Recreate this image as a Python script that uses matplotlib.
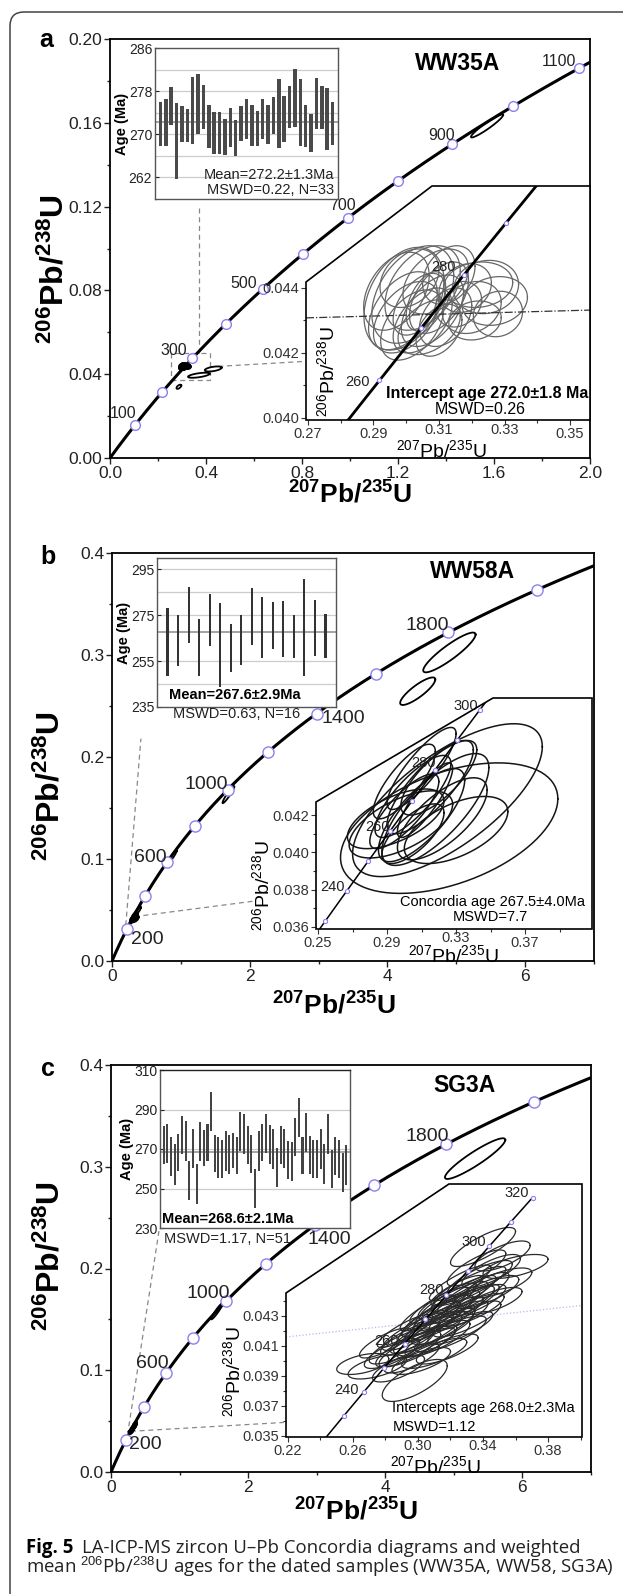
import numpy as np
import matplotlib.pyplot as plt
from matplotlib.patches import Polygon, Rectangle, FancyBboxPatch
from matplotlib.ticker import MultipleLocator, FormatStrFormatter, FuncFormatter
from matplotlib.transforms import IdentityTransform

plt.rcParams['font.family'] = ['Liberation Sans', 'DejaVu Sans']
plt.rcParams['mathtext.fontset'] = 'custom'
plt.rcParams['mathtext.rm'] = 'Liberation Sans'
plt.rcParams['mathtext.bf'] = 'Liberation Sans:bold'
plt.rcParams['mathtext.it'] = 'Liberation Sans:italic'

W, H = 623, 1594

# U decay constants (1/yr)
L238 = 1.55125e-10
L235 = 9.8485e-10

# ---------------- panel a : WW35A
a_ages = [100, 200, 300, 400, 500, 600, 700, 800, 900, 1000, 1100]
a_lab_ages = [100, 300, 500, 700, 900, 1100]
a_bar_top = [276.0, 276.6, 278.7, 275.8, 275.2, 274.6, 280.6, 281.2, 279.2, 275.5, 274.2,
             274.2, 272.9, 274.9, 272.6, 275.2, 276.5, 275.5, 274.3, 276.5, 275.5, 277.0,
             280.2, 277.1, 278.9, 282.1, 280.3, 275.5, 273.7, 280.5, 279.0, 278.6, 275.9]
a_bar_bot = [267.9, 267.9, 271.8, 261.8, 268.5, 268.5, 268.2, 270.0, 270.9, 267.5, 266.3,
             266.3, 266.2, 267.7, 266.0, 268.8, 269.1, 267.8, 267.8, 269.1, 268.2, 270.0,
             267.4, 268.5, 271.2, 271.4, 267.8, 267.7, 266.8, 270.9, 270.9, 267.1, 268.0]
a_mean = 272.2
# inset ellipses: centre, half-widths, correlation
a_ex = [0.2993, 0.3020, 0.3050, 0.2990, 0.3018, 0.3050, 0.3000, 0.3080, 0.3040, 0.3100, 0.3090,
        0.2970, 0.3070, 0.3120, 0.3010, 0.3130, 0.3100, 0.3060,
        0.3244, 0.3270, 0.3220, 0.3200, 0.3180, 0.3160, 0.3280, 0.3210]
a_ey = [0.04367, 0.04380, 0.04400, 0.04330, 0.04286, 0.04300, 0.04310, 0.04330, 0.04350, 0.04370,
        0.04420, 0.04390, 0.04280, 0.04310, 0.04430, 0.04440, 0.04270, 0.04360,
        0.04403, 0.04360, 0.04410, 0.04340, 0.04400, 0.04350, 0.04320, 0.04300]
a_sx = [0.0122, 0.0125, 0.0115, 0.0105, 0.0096, 0.0090, 0.0100, 0.0095, 0.0080, 0.0090, 0.0100,
        0.0100, 0.0095, 0.0080, 0.0090, 0.0080, 0.0070, 0.0060,
        0.0099, 0.0100, 0.0105, 0.0090, 0.0080, 0.0070, 0.0075, 0.0080]
a_sy = [0.00158, 0.00150, 0.00130, 0.00120, 0.00108, 0.00100, 0.00110, 0.00110, 0.00095, 0.00110,
        0.00100, 0.00120, 0.00085, 0.00090, 0.00090, 0.00090, 0.00080, 0.00090,
        0.00082, 0.00075, 0.00070, 0.00080, 0.00075, 0.00070, 0.00070, 0.00060]
a_rho = [0.35, 0.40, 0.40, 0.45, 0.45, 0.50, 0.45, 0.50, 0.50, 0.50, 0.40, 0.40, 0.40, 0.40, 0.30,
         0.30, 0.40, 0.50, 0.10, 0.15, 0.10, 0.20, 0.20, 0.20, 0.10, 0.15]
# discordant grains in the main diagram
a_big_ex = [1.571, 0.370, 0.430, 0.287]
a_big_ey = [0.1585, 0.0395, 0.0425, 0.0340]
a_big_sx = [0.067, 0.045, 0.035, 0.010]
a_big_sy = [0.0055, 0.0012, 0.0012, 0.0010]
a_big_rho = [0.95, 0.6, 0.5, 0.6]
a_disc = ([0.2694, 0.3561], [0.04308, 0.04332])

# ---------------- panel b : WW58A
b_ages = [200, 400, 600, 800, 1000, 1200, 1400, 1600, 1800, 2000]
b_lab_ages = [200, 600, 1000, 1400, 1800]
b_bar_top = [278.3, 275.0, 287.3, 273.3, 284.1, 280.5, 271.4, 275.3, 287.0, 283.1, 281.0,
             281.4, 275.0, 291.0, 281.5, 275.4]
b_bar_bot = [248.6, 253.0, 262.8, 248.6, 261.4, 243.6, 250.1, 253.3, 262.0, 256.2, 260.5,
             257.0, 256.2, 248.6, 257.3, 256.2]
b_mean = 267.6
b_ex = [0.326, 0.325, 0.318, 0.305, 0.310, 0.300, 0.315, 0.298, 0.320, 0.310, 0.330, 0.305,
        0.295, 0.312, 0.322, 0.300]
b_ey = [0.0413, 0.0428, 0.0423, 0.0430, 0.0420, 0.0422, 0.0435, 0.0415, 0.0440, 0.0445, 0.0412,
        0.0410, 0.0418, 0.0428, 0.0418, 0.0438]
b_sx = [0.063, 0.055, 0.031, 0.022, 0.025, 0.020, 0.025, 0.030, 0.022, 0.020, 0.030, 0.018,
        0.028, 0.016, 0.026, 0.018]
b_sy = [0.0035, 0.0041, 0.0030, 0.0022, 0.0025, 0.0020, 0.0025, 0.0018, 0.0020, 0.0022, 0.0018,
        0.0016, 0.0016, 0.0020, 0.0022, 0.0020]
b_rho = [0.45, 0.70, 0.75, 0.80, 0.75, 0.80, 0.80, 0.60, 0.75, 0.85, 0.55, 0.70, 0.60, 0.85,
         0.70, 0.80]
b_big_ex = [4.90, 4.44, 1.69, 0.87, 0.36, 0.30]
b_big_ey = [0.3025, 0.2645, 0.163, 0.1017, 0.048, 0.040]
b_big_sx = [0.38, 0.255, 0.085, 0.07, 0.06, 0.05]
b_big_sy = [0.0195, 0.0135, 0.0083, 0.0066, 0.005, 0.004]
b_big_rho = [0.9, 0.85, 0.95, 0.95, 0.9, 0.9]

# ---------------- panel c : SG3A
c_ages = b_ages
c_lab_ages = [200, 600, 1000, 1400, 1800]
c_bar_top = [281.6, 282.7, 276.0, 272.3, 277.7, 286.6, 284.1, 263.8, 279.9, 262.2, 283.8,
             279.4, 282.7, 298.8, 277.3, 276.0, 274.8, 279.0, 277.0, 278.2, 276.0, 288.8,
             287.8, 281.6, 277.3, 260.1, 279.0, 282.7, 287.5, 282.4, 279.9, 270.6, 281.6,
             279.9, 274.3, 273.6, 285.8, 295.9, 276.0, 288.3, 276.5, 274.8, 274.8, 279.9,
             272.3, 287.8, 269.7, 276.0, 274.8, 268.1, 272.0]
c_bar_bot = [262.2, 263.0, 256.2, 252.0, 258.8, 267.6, 263.8, 244.4, 260.5, 242.2, 263.8,
             261.3, 263.8, 279.0, 258.4, 255.4, 255.4, 258.8, 257.1, 260.5, 257.1, 268.9,
             267.6, 262.2, 257.9, 239.9, 258.8, 263.8, 268.1, 262.2, 260.1, 250.7, 262.2,
             260.5, 254.6, 253.7, 266.4, 276.0, 257.1, 268.6, 257.1, 255.1, 255.1, 260.1,
             252.4, 267.6, 250.3, 256.8, 255.4, 248.3, 252.0]
c_mean = 268.6
c_ex = [0.266, 0.275, 0.298, 0.284, 0.290, 0.295, 0.300, 0.305, 0.308, 0.312, 0.315, 0.318,
        0.322, 0.325, 0.328, 0.332, 0.335, 0.338, 0.340, 0.345, 0.360, 0.350, 0.310, 0.302,
        0.320, 0.330, 0.288, 0.296, 0.313, 0.326, 0.342, 0.318, 0.306, 0.336, 0.280, 0.352,
        0.324, 0.292, 0.346, 0.333,
        0.300, 0.310, 0.316, 0.322, 0.305, 0.328, 0.312, 0.294, 0.334, 0.318, 0.308, 0.326]
c_ey = [0.0398, 0.0396, 0.0387, 0.0405, 0.0410, 0.0415, 0.0420, 0.0412, 0.0425, 0.0430,
        0.0422, 0.0435, 0.0440, 0.0430, 0.0445, 0.0450, 0.0440, 0.0455, 0.0476, 0.0460,
        0.0463, 0.0452, 0.0405, 0.0400, 0.0418, 0.0428, 0.0395, 0.0402, 0.0437, 0.0452,
        0.0446, 0.0408, 0.0432, 0.0462, 0.0412, 0.0470, 0.0447, 0.0420, 0.0440, 0.0434,
        0.0410, 0.0420, 0.0428, 0.0435, 0.0418, 0.0438, 0.0415, 0.0408, 0.0445, 0.0440,
        0.0428, 0.0422]
c_sx = [0.016, 0.018, 0.020, 0.017, 0.020, 0.018, 0.022, 0.018, 0.020, 0.022, 0.019, 0.020,
        0.021, 0.018, 0.020, 0.022, 0.019, 0.020, 0.020, 0.018, 0.020, 0.020, 0.020, 0.018,
        0.022, 0.021, 0.016, 0.017, 0.018, 0.019, 0.020, 0.019, 0.017, 0.018, 0.016, 0.017,
        0.016, 0.017, 0.018, 0.020,
        0.024, 0.025, 0.024, 0.025, 0.022, 0.022, 0.020, 0.020, 0.022, 0.018, 0.018, 0.020]
c_sy = [0.0007, 0.0008, 0.0014, 0.0010, 0.0012, 0.0011, 0.0013, 0.0010, 0.0012, 0.0014,
        0.0011, 0.0012, 0.0013, 0.0010, 0.0012, 0.0013, 0.0011, 0.0012, 0.0013, 0.0011,
        0.0008, 0.0010, 0.0010, 0.0009, 0.0012, 0.0012, 0.0009, 0.0010, 0.0012, 0.0012,
        0.0011, 0.0010, 0.0012, 0.0012, 0.0010, 0.0010, 0.0010, 0.0011, 0.0009, 0.0011,
        0.0014, 0.0015, 0.0015, 0.0015, 0.0013, 0.0013, 0.0012, 0.0012, 0.0014, 0.0012,
        0.0012, 0.0011]
c_rho = [0.5, 0.6, 0.7, 0.75, 0.8, 0.8, 0.85, 0.8, 0.85, 0.85, 0.8, 0.85, 0.85, 0.8, 0.85,
         0.85, 0.8, 0.8, 0.8, 0.75, 0.6, 0.7, 0.75, 0.7, 0.8, 0.8, 0.7, 0.75, 0.85, 0.85,
         0.75, 0.75, 0.85, 0.8, 0.8, 0.7, 0.85, 0.85, 0.7, 0.8,
         0.85, 0.88, 0.88, 0.88, 0.85, 0.85, 0.8, 0.8, 0.85, 0.85, 0.85, 0.8]
c_big_ex = [5.31, 1.545, 0.33]
c_big_ey = [0.308, 0.158, 0.045]
c_big_sx = [0.44, 0.085, 0.05]
c_big_sy = [0.020, 0.008, 0.004]
c_big_rho = [0.92, 0.95, 0.9]
c_disc = ([0.2188, 0.4009], [0.0416, 0.0437])

fig = plt.figure(figsize=(W / 100, H / 100), dpi=100)


def px_axes(x0, y0, x1, y1):
    return fig.add_axes([x0 / W, 1 - y1 / H, (x1 - x0) / W, (y1 - y0) / H])


def ftext(x, y, s, **kw):
    return fig.text(x / W, 1 - y / H, s, **kw)


def concordia(ages):
    t = np.asarray(ages, dtype=float) * 1e6
    return np.expm1(L235 * t), np.expm1(L238 * t)


def ellipse_xy(cx, cy, sx, sy, r):
    t = np.linspace(0, 2 * np.pi, 90)
    return cx + sx * np.cos(t), cy + sy * (r * np.cos(t) + np.sqrt(1 - r * r) * np.sin(t))


XLAB = r'$\mathbf{{}^{207}Pb/{}^{235}U}$'
YLAB = r'$\mathbf{{}^{206}Pb/{}^{238}U}$'
XLAB_S = r'${}^{207}$Pb/${}^{235}$U'
YLAB_S = r'${}^{206}$Pb/${}^{238}$U'
MK = '#8a80f0'


def main_panel(box, xlim, ylim, xs, xm, ys, ym, xf, yf, xlab_pos, ylab_pos):
    ax = px_axes(*box)
    ax.set_xlim(xlim)
    ax.set_ylim(ylim)
    ax.xaxis.set_major_locator(MultipleLocator(xs))
    ax.xaxis.set_minor_locator(MultipleLocator(xm))
    ax.yaxis.set_major_locator(MultipleLocator(ys))
    ax.yaxis.set_minor_locator(MultipleLocator(ym))
    ax.xaxis.set_major_formatter(FormatStrFormatter(xf))
    ax.yaxis.set_major_formatter(FormatStrFormatter(yf))
    ax.tick_params(which='both', direction='out', width=1, labelsize=12.5, pad=1.5,
                   colors='#222')
    ax.tick_params(which='major', length=4)
    ax.tick_params(which='minor', length=2.5)
    for s in ax.spines.values():
        s.set_linewidth(1.3)
    ax.text(*xlab_pos, XLAB, transform=ax.transAxes, fontsize=19, ha='center', va='center')
    ax.text(*ylab_pos, YLAB, transform=ax.transAxes, fontsize=23, ha='center', va='center',
            rotation=90)
    x, y = concordia(np.linspace(0, 2400, 600))
    ax.plot(x, y, color='k', lw=2.2, zorder=3)
    return ax


def age_marks(ax, ages, lab_ages, offs, ms, fs):
    x, y = concordia(ages)
    ax.plot(x, y, 'o', ms=ms, mfc='white', mec=MK, mew=1, zorder=5)
    for a, (dx, dy) in zip(lab_ages, offs):
        px, py = concordia([a])
        ax.annotate(str(a), (px[0], py[0]), xytext=(dx, dy), textcoords='offset pixels',
                    ha='center', va='center', fontsize=fs, color='#222', zorder=6)


def bar_inset(box, tops, bots, ylim, yticks, grid, mean, width, color):
    ax = px_axes(*box)
    tops = np.array(tops)
    bots = np.array(bots)
    xs = np.arange(1, len(tops) + 1)
    ax.bar(xs, tops - bots, bottom=bots, width=width, color=color, zorder=3)
    ax.set_xlim(0, len(tops) + 1)
    ax.set_ylim(ylim)
    for g in grid:
        ax.axhline(g, color='#cccccc', lw=0.9, zorder=1)
    ax.axhline(mean, color='#8a8a8a', lw=1.1, zorder=2)
    ax.set_xticks([])
    ax.set_yticks(yticks)
    ax.tick_params(axis='y', direction='in', length=3, labelsize=10, pad=2, colors='#222')
    for s in ax.spines.values():
        s.set_color('#555')
        s.set_linewidth(1)
    ax.set_ylabel('Age (Ma)', fontweight='bold', fontsize=10.5, labelpad=0)
    return ax


def conc_inset(box, corner_y, diag_x, xlim, ylim):
    x0, y0, x1, y1 = box
    ax = px_axes(x0, y0, x1, y1)
    ax.set_xlim(xlim)
    ax.set_ylim(ylim)
    ax.patch.set_visible(False)
    for s in ax.spines.values():
        s.set_visible(False)
    fy = (y1 - corner_y) / (y1 - y0)
    fx = (diag_x - x0) / (x1 - x0)
    pts = [(0, 0), (1, 0), (1, 1), (fx, 1), (0, fy)]
    bg = Polygon(pts, closed=True, transform=ax.transAxes, fc='white', ec='none', zorder=0)
    ax.add_patch(bg)
    ax.add_patch(Polygon(pts, closed=True, transform=ax.transAxes, fill=False, ec='k', lw=1.2,
                         zorder=8, clip_on=False))
    ax.tick_params(which='both', direction='out', labelsize=10.5, pad=1.5, colors='#333',
                   width=0.8)
    ax.tick_params(which='major', length=3.5)
    ax.tick_params(which='minor', length=2)
    ax.yaxis.set_major_formatter(FormatStrFormatter('%.3f'))
    return ax, bg


def inset_xticks(ax, ticks, minor, raised, h):
    # a few labels sit a little higher, as in the original, to clear the axis title
    ax.set_xticks(ticks)
    ax.set_xticks(minor, minor=True)
    ax.xaxis.set_major_formatter(FuncFormatter(
        lambda v, p: '' if any(abs(v - r) < 1e-9 for r in raised) else '%.2f' % v))
    for r in raised:
        ax.text(r, -2.5 / h, '%.2f' % r, transform=ax.get_xaxis_transform(), ha='center',
                va='top', fontsize=10.5, color='#333')


def draw_ellipses(ax, ex, ey, sx, sy, rho, color, lw, clip=None):
    for cx, cy, a, b, r in zip(ex, ey, sx, sy, rho):
        x, y = ellipse_xy(cx, cy, a, b, r)
        ln, = ax.plot(x, y, color=color, lw=lw, zorder=4)
        if clip is not None:
            ln.set_clip_path(clip)


def inset_curve(ax, clip, t0, t1, lw, ages, lab_ages, offs):
    x, y = concordia(np.linspace(t0, t1, 300))
    ln, = ax.plot(x, y, color='k', lw=lw, zorder=5)
    ln.set_clip_path(clip)
    mx, my = concordia(ages)
    m, = ax.plot(mx, my, 'o', ms=3, mfc='white', mec=MK, mew=0.8, zorder=6)
    m.set_clip_path(clip)
    for a, (dx, dy) in zip(lab_ages, offs):
        px, py = concordia([a])
        ax.annotate(str(a), (px[0], py[0]), xytext=(dx, dy), textcoords='offset pixels',
                    ha='center', va='center', fontsize=10.5, color='#222', zorder=7)


dash = dict(color='#888888', lw=0.9, ls=(0, (4, 3)), zorder=2)

# ======================= panel a
ax = main_panel((110, 39, 590, 458), (0, 2.0), (0, 0.20), 0.4, 0.2, 0.04, 0.02, '%.1f', '%.2f',
                (0.50, -0.088), (-0.115, 0.45))
age_marks(ax, a_ages, a_lab_ages, [(-12, 12), (-19, 8), (-19, 6), (-6, 12), (-11, 9), (-20, 7)],
          7, 11.5)
draw_ellipses(ax, a_ex, a_ey, a_sx, a_sy, a_rho, 'k', 1.2)
draw_ellipses(ax, a_big_ex, a_big_ey, a_big_sx, a_big_sy, a_big_rho, 'k', 1.3)
ax.add_patch(Rectangle((0.254, 0.0374), 0.162, 0.0127, fill=False, ec='#888888', lw=0.9,
                       ls=(0, (4, 3)), zorder=2))
ax.plot([0.37, 0.37], [0.0501, 0.120], **dash)
ax.plot([0.415, 1.633], [0.0435, 0.0515], **dash)
ftext(458, 63, 'WW35A', fontsize=16.5, fontweight='bold', ha='center', va='center')
ftext(46, 40, 'a', fontsize=18, fontweight='bold', ha='center', va='center')

bx = bar_inset((155, 48, 338, 199), a_bar_top, a_bar_bot, (258, 286), [262, 270, 278, 286],
               [262, 266, 270, 274, 278, 282], a_mean, 0.65, '#4a4a4a')
bx.text(0.98, 0.16, 'Mean=272.2±1.3Ma', transform=bx.transAxes, ha='right', va='center',
        fontsize=10.5, color='#222')
bx.text(0.98, 0.06, 'MSWD=0.22, N=33', transform=bx.transAxes, ha='right', va='center',
        fontsize=10.5, color='#222')

ix, clip = conc_inset((306, 186, 590, 420), 282, 432, (0.2694, 0.3561), (0.039938, 0.047138))
inset_xticks(ix, [0.27, 0.29, 0.31, 0.33, 0.35], [0.28, 0.30, 0.32, 0.34], [0.31, 0.33], 234)
ix.set_yticks([0.040, 0.042, 0.044])
ix.set_yticks([0.041, 0.043], minor=True)
draw_ellipses(ix, a_ex, a_ey, a_sx, a_sy, a_rho, '#666666', 0.9, clip)
ln, = ix.plot(*a_disc, color='#333', lw=0.9, ls='-.', zorder=4)
ln.set_clip_path(clip)
inset_curve(ix, clip, 200, 340, 2.0, [260, 270, 280, 290], [260, 280], [(-22, -2), (-20, 8)])
ix.text(0.475, -0.13, XLAB_S, transform=ix.transAxes, fontsize=14, ha='center', va='center')
ix.text(0.074, 0.205, YLAB_S, transform=ix.transAxes, fontsize=14, ha='center', va='center',
        rotation=90)
ix.text(0.993, 0.115, 'Intercept age 272.0±1.8 Ma', transform=ix.transAxes, fontsize=11.5,
        fontweight='bold', ha='right', va='center', zorder=9)
ix.text(0.613, 0.047, 'MSWD=0.26', transform=ix.transAxes, fontsize=11.5, ha='center',
        va='center', zorder=9)

# ======================= panel b
ax = main_panel((112, 553, 594, 961), (0, 7), (0, 0.4), 2, 1, 0.1, 0.05, '%d', '%.1f',
                (0.46, -0.108), (-0.127, 0.43))
age_marks(ax, b_ages, b_lab_ages, [(20, -11), (-17, 4), (-21, 5), (27, -5), (-21, 7)], 8, 14)
draw_ellipses(ax, b_ex, b_ey, b_sx, b_sy, b_rho, 'k', 1.2)
draw_ellipses(ax, b_big_ex, b_big_ey, b_big_sx, b_big_sy, b_big_rho, 'k', 1.3)
ax.plot([0.20, 0.42], [0.035, 0.218], **dash)
ax.plot([0.33, 2.07], [0.0435, 0.0588], **dash)
ftext(473, 572, 'WW58A', fontsize=16.5, fontweight='bold', ha='center', va='center')
ftext(48, 557, 'b', fontsize=18, fontweight='bold', ha='center', va='center')

bx = bar_inset((157, 558, 336, 707), b_bar_top, b_bar_bot, (235, 300), [235, 255, 275, 295],
               [245, 255, 275, 285, 295], b_mean, 0.2, '#333333')
ftext(235, 695, 'Mean=267.6±2.9Ma', fontsize=10.5, fontweight='bold', ha='center', va='center')
ftext(237, 714, 'MSWD=0.63, N=16', fontsize=10.5, ha='center', va='center', color='#222')

ix, clip = conc_inset((316, 698, 592, 929), 802, 493, (0.2488, 0.4088), (0.03589, 0.04828))
inset_xticks(ix, [0.25, 0.29, 0.33, 0.37], [0.27, 0.31, 0.35, 0.39], [0.33], 231)
ix.set_yticks([0.036, 0.038, 0.040, 0.042])
ix.set_yticks([0.037, 0.039, 0.041], minor=True)
draw_ellipses(ix, b_ex, b_ey, b_sx, b_sy, b_rho, '#151515', 1.1, clip)
inset_curve(ix, clip, 200, 340, 1.1, [230, 240, 250, 260, 270, 280, 290, 300],
            [240, 260, 280, 300], [(-14, 4), (-13, 4), (-11, 7), (-14, 4)])
ix.text(0.496, -0.112, XLAB_S, transform=ix.transAxes, fontsize=14, ha='center', va='center')
ix.text(-0.196, 0.186, YLAB_S, transform=ix.transAxes, fontsize=14, ha='center', va='center',
        rotation=90)
ix.text(0.638, 0.117, 'Concordia age 267.5±4.0Ma', transform=ix.transAxes, fontsize=10.5,
        ha='center', va='center', zorder=9)
ix.text(0.63, 0.052, 'MSWD=7.7', transform=ix.transAxes, fontsize=10.5, ha='center',
        va='center', zorder=9)

# ======================= panel c
ax = main_panel((111, 1065, 591, 1472), (0, 7), (0, 0.4), 2, 1, 0.1, 0.05, '%d', '%.1f',
                (0.51, -0.098), (-0.125, 0.53))
age_marks(ax, c_ages, c_lab_ages, [(19, -5), (-14, 9), (-18, 8), (15, -14), (-19, 8)], 8, 14)
draw_ellipses(ax, c_ex, c_ey, c_sx, c_sy, c_rho, 'k', 1.2)
draw_ellipses(ax, c_big_ex, c_big_ey, c_big_sx, c_big_sy, c_big_rho, 'k', 1.3)
ax.plot([0.26, 0.70], [0.045, 0.237], **dash)
ax.plot([0.29, 2.52], [0.040, 0.0487], **dash)
ftext(464, 1086, 'SG3A', fontsize=16.5, fontweight='bold', ha='center', va='center')
ftext(48, 1069, 'c', fontsize=18, fontweight='bold', ha='center', va='center')

bx = bar_inset((160, 1070, 350, 1228), c_bar_top, c_bar_bot, (230, 310), [230, 250, 270, 290, 310],
               [250, 270, 290], c_mean, 0.55, '#444444')
bx.spines['top'].set_color('#222')
ftext(228, 1219, 'Mean=268.6±2.1Ma', fontsize=10.5, fontweight='bold', ha='center', va='center')
ftext(228, 1239, 'MSWD=1.17, N=51', fontsize=10.5, ha='center', va='center', color='#222')

ix, clip = conc_inset((286, 1184, 582, 1437), 1293, 449, (0.2188, 0.4009), (0.03493, 0.0518))
inset_xticks(ix, [0.22, 0.26, 0.30, 0.34, 0.38], [0.24, 0.28, 0.32, 0.36, 0.40], [0.30, 0.34],
             253)
ix.set_yticks([0.035, 0.037, 0.039, 0.041, 0.043])
ix.set_yticks([0.036, 0.038, 0.040, 0.042, 0.044], minor=True)
draw_ellipses(ix, c_ex, c_ey, c_sx, c_sy, c_rho, '#2a2a2a', 0.9, clip)
ln, = ix.plot(*c_disc, color='#b8b8f0', lw=0.9, ls=':', zorder=3)
ln.set_clip_path(clip)
inset_curve(ix, clip, 215, 320, 1.1, [230, 240, 250, 260, 270, 280, 290, 300, 310, 320],
            [240, 260, 280, 300, 320], [(-17, 2), (-18, 3), (-15, 5), (-15, 4), (-16, 5)])
ix.text(0.503, -0.115, XLAB_S, transform=ix.transAxes, fontsize=14, ha='center', va='center')
ix.text(-0.18, 0.257, YLAB_S, transform=ix.transAxes, fontsize=14, ha='center', va='center',
        rotation=90)
ix.text(0.666, 0.115, 'Intercepts age 268.0±2.3Ma', transform=ix.transAxes, fontsize=10.5,
        ha='center', va='center', zorder=9)
ix.text(0.361, 0.04, 'MSWD=1.12', transform=ix.transAxes, fontsize=10.5, ha='left',
        va='center', zorder=9)

# ======================= caption and frame
cap = ['Open Sans', 'DejaVu Sans']
t1 = ftext(26, 1548, 'Fig. 5', fontsize=13.4, fontweight='bold', family=cap, va='center')
fig.canvas.draw()
bb = t1.get_window_extent()
fig.text((bb.x1 + 9) / W, 1 - 1548 / H, 'LA-ICP-MS zircon U–Pb Concordia diagrams and weighted',
         fontsize=13.4, family=cap, va='center', color='#222')
ftext(26, 1567, 'mean $^{206}$Pb/$^{238}$U ages for the dated samples (WW35A, WW58, SG3A)',
      fontsize=13.4, family=cap, va='center', color='#222')

frame = FancyBboxPatch((10, -60), 700, 1594 - 12 + 60, boxstyle='round,pad=0,rounding_size=14',
                       transform=IdentityTransform(), fill=False, ec='#444', lw=1.1)
fig.add_artist(frame)

fig.savefig('out.png', dpi=100)
